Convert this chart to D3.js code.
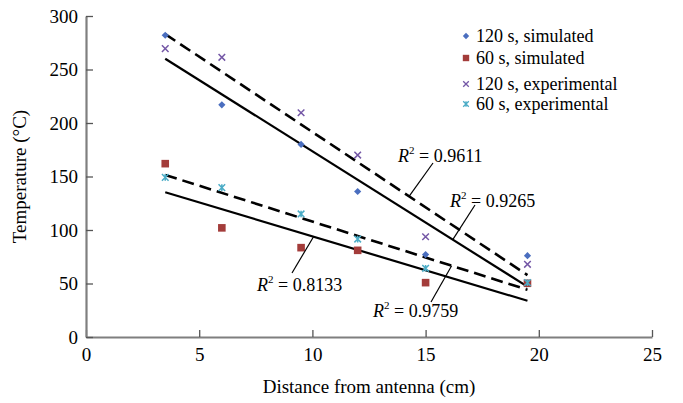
<!DOCTYPE html>
<html>
<head>
<meta charset="utf-8">
<script src="https://cdn.jsdelivr.net/npm/d3@7/dist/d3.min.js"></script>
</head>
<body style="margin:0;padding:0;background:#fff">
<svg id="chart" width="683" height="403"></svg>
<script>
// ---- data ----
const distances = [3.5, 6, 9.5, 12, 15, 19.5];
const sim120 = [282, 217, 180, 136, 77, 76];
const sim60 = [162, 102, 83.5, 81, 50.8, 50.2];
const exp120 = [269.5, 261.4, 209.6, 170, 93.7, 67.9];
const exp60 = [149.2, 139.6, 115, 91.5, 64.2, 50.8];
const seriesNames = ["120 s, simulated", "60 s, simulated", "120 s, experimental", "60 s, experimental"];
const r2Labels = ["0.9611", "0.9265", "0.8133", "0.9759"];
const xTicks = [0, 5, 10, 15, 20, 25];
const yTicks = [0, 50, 100, 150, 200, 250, 300];

// ---- setup ----
const FONT = '"Liberation Serif"';
const svg = d3.select("#chart").style("font-family", FONT);
const x = d3.scaleLinear().domain([0, 25]).range([86, 652]);
const y = d3.scaleLinear().domain([0, 300]).range([337, 16]);

const colors = ["#4a6ebf", "#a33c3a", "#7457a6", "#4bacc6"];
const series = [sim120, sim60, exp120, exp60];

function markerPath(i, s) {
  if (i === 0) return `M0,${-s}L${s},0L0,${s}L${-s},0Z`;
  if (i === 1) return `M${-s},${-s}H${s}V${s}H${-s}Z`;
  if (i === 2) return `M${-s},${-s}L${s},${s}M${-s},${s}L${s},${-s}`;
  return `M${-s},${-s}L${s},${s}M${-s},${s}L${s},${-s}M0,${-s}V${s}`;
}
function styleMarker(sel, i) {
  if (i < 2) sel.attr("fill", colors[i]).attr("stroke", "none");
  else sel.attr("fill", "none").attr("stroke", colors[i]).attr("stroke-width", 1.5);
}
function txt(sel, size) {
  return sel.style("font-family", FONT).style("font-size", size + "px").attr("fill", "#000");
}

// axes
const axisColor = "#7f7f7f";
const gx = svg.append("g").attr("transform", `translate(0,${y(0)})`)
  .call(d3.axisBottom(x).tickValues(xTicks).tickSize(-7).tickSizeOuter(0).tickPadding(11).tickFormat(d3.format("d")));
const gy = svg.append("g").attr("transform", `translate(${x(0)},0)`)
  .call(d3.axisLeft(y).tickValues(yTicks).tickSize(-7).tickSizeOuter(0).tickPadding(8).tickFormat(d3.format("d")));
[gx, gy].forEach(g => {
  g.attr("font-family", null).attr("font-size", null);
  g.select(".domain").attr("stroke", axisColor).attr("stroke-width", 2.2);
  g.selectAll(".tick line").attr("stroke", "#555").attr("stroke-width", 1.3);
  g.selectAll(".tick text").call(txt, 19);
});

// axis titles
svg.append("text").attr("x", (x(0) + x(25)) / 2).attr("y", 393)
  .attr("text-anchor", "middle").call(txt, 19).text("Distance from antenna (cm)");
svg.append("text").attr("transform", `translate(26,${(y(0) + y(300)) / 2}) rotate(-90)`)
  .attr("text-anchor", "middle").call(txt, 19).text("Temperature (°C)");

// regression trend lines
function fit(xs, ys) {
  const mx = d3.mean(xs), my = d3.mean(ys);
  const sxy = d3.sum(xs, (v, i) => (v - mx) * (ys[i] - my));
  const sxx = d3.sum(xs, v => (v - mx) * (v - mx));
  const b = sxy / sxx;
  return v => my + b * (v - mx);
}
const x0 = d3.min(distances), x1 = d3.max(distances);
const trendDefs = [
  { data: exp120, dash: "12,6", w: 2.6 },
  { data: sim120, dash: null, w: 2.2 },
  { data: exp60, dash: "12,6", w: 2.6 },
  { data: sim60, dash: null, w: 2.2 }
];
const fits = trendDefs.map(t => fit(distances, t.data));
trendDefs.forEach((t, i) => {
  const f = fits[i];
  svg.append("line")
    .attr("x1", x(x0)).attr("y1", y(f(x0)))
    .attr("x2", x(x1)).attr("y2", y(f(x1)))
    .attr("stroke", "#000").attr("stroke-width", t.w)
    .attr("stroke-dasharray", t.dash);
});

// points
const markerSizes = [3.6, 3.8, 3.3, 3.3];
series.forEach((vals, si) => {
  svg.append("g").selectAll("path").data(vals).join("path")
    .attr("transform", (d, i) => `translate(${x(distances[i])},${y(d)})`)
    .attr("d", markerPath(si, markerSizes[si]))
    .call(styleMarker, si);
});

// legend
const legendRows = [42, 64, 90, 110];
const lg = svg.append("g");
seriesNames.forEach((name, i) => {
  const cy = legendRows[i] - 6;
  lg.append("path").attr("transform", `translate(466,${cy})`)
    .attr("d", markerPath(i, i < 2 ? 3.2 : 2.8)).call(styleMarker, i).attr("stroke-width", 1.3);
  lg.append("text").attr("x", 476).attr("y", legendRows[i]).call(txt, 18).text(name);
});

// R² annotations
const annot = [
  { tx: 398, ty: 162, lx: 433, ly: 163, onX: 14.27, fitIdx: 0 },
  { tx: 450, ty: 207, lx: 475, ly: 205, onX: 16.2, fitIdx: 1 },
  { tx: 257, ty: 291, lx: 292, ly: 273, onX: 10.05, fitIdx: 3 },
  { tx: 373, ty: 317, lx: 431, ly: 302, onX: 16.15, fitIdx: 2 }
];
annot.forEach((a, i) => {
  svg.append("line").attr("x1", a.lx).attr("y1", a.ly)
    .attr("x2", x(a.onX)).attr("y2", y(fits[a.fitIdx](a.onX)))
    .attr("stroke", "#000").attr("stroke-width", 1.2);
  const t = svg.append("text").attr("x", a.tx).attr("y", a.ty).call(txt, 18);
  t.append("tspan").style("font-style", "italic").text("R");
  t.append("tspan").style("font-size", "11px").attr("dy", -8).text("2");
  t.append("tspan").attr("dy", 8).text(" = " + r2Labels[i]);
});
</script>
</body>
</html>
